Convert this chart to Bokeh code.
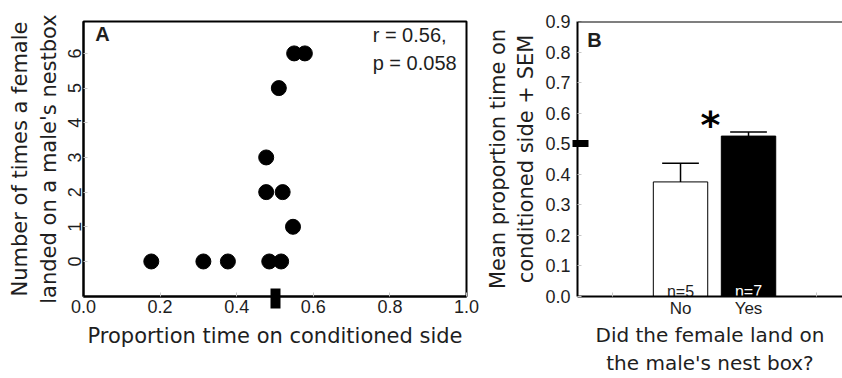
from bokeh.plotting import figure
from bokeh.layouts import row
from bokeh.models import FixedTicker, Label, Range1d, ColumnDataSource, Span
from bokeh.core.properties import value
from bokeh.embed import file_html
from bokeh.resources import INLINE

# ---------------- Panel A data ----------------
prop_time = [0.177, 0.313, 0.377, 0.485, 0.516, 0.547, 0.477, 0.520, 0.477, 0.510, 0.550, 0.578]
landings = [0, 0, 0, 0, 0, 1, 2, 2, 3, 5, 6, 6]
a_xticks = [0.0, 0.2, 0.4, 0.6, 0.8, 1.0]
a_xtick_labels = ["0.0", "0.2", "0.4", "0.6", "0.8", "1.0"]
a_yticks = [0, 1, 2, 3, 4, 5, 6]
a_ytick_labels = ["0", "1", "2", "3", "4", "5", "6"]
chance_level = 0.5
stats_text = ["r = 0.56,", "p = 0.058"]

# ---------------- Panel B data ----------------
groups = ["No", "Yes"]
group_pos = [1, 2]
mean_prop = [0.375, 0.525]
sem_prop = [0.061, 0.013]
n_labels = ["n=5", "n=7"]
b_edge_ticks = [0, 3]
b_yticks = [0.0, 0.1, 0.2, 0.3, 0.4, 0.5, 0.6, 0.7, 0.8, 0.9]
b_ytick_labels = ["0.0", "0.1", "0.2", "0.3", "0.4", "0.5", "0.6", "0.7", "0.8", "0.9"]

TITLE_FONT = "DejaVu Sans"
TICK_FONT = "Liberation Sans"
TXT = "#1e1e1e"


def style_axis(ax, label_size="18px", title_size="21px"):
    ax.axis_line_color = "black"
    ax.axis_line_width = 2
    ax.major_tick_line_color = "#c8c8c8"
    ax.major_tick_in = 4
    ax.major_tick_out = 0
    ax.minor_tick_line_color = None
    ax.major_label_text_font = TICK_FONT
    ax.major_label_text_font_size = label_size
    ax.major_label_text_color = TXT
    ax.axis_label_text_font = TITLE_FONT
    ax.axis_label_text_font_size = title_size
    ax.axis_label_text_font_style = "normal"
    ax.axis_label_text_color = TXT


# ================= Panel A =================
pA = figure(width=480, height=378, x_range=Range1d(0, 1), y_range=Range1d(-1.01, 6.92),
            output_backend="svg", toolbar_location=None,
            min_border_left=83, min_border_right=14, min_border_top=21, min_border_bottom=82)
pA.grid.visible = False
pA.outline_line_color = "black"
pA.outline_line_width = 2
pA.background_fill_color = "white"
pA.border_fill_color = "white"

pA.scatter(prop_time, landings, size=15, color="black", marker="circle")

xa = pA.xaxis[0]
style_axis(xa)
xa.ticker = FixedTicker(ticks=a_xticks, minor_ticks=[chance_level])
xa.major_label_overrides = dict(zip(a_xticks, a_xtick_labels))
xa.minor_tick_line_color = "black"
xa.minor_tick_line_width = 10
xa.minor_tick_in = 8
xa.minor_tick_out = 12
xa.major_label_standoff = -9
xa.axis_label = "Proportion time on conditioned side"
xa.axis_label_standoff = 8

ya = pA.yaxis[0]
style_axis(ya, title_size="21px")
ya.ticker = FixedTicker(ticks=a_yticks)
ya.major_label_overrides = dict(zip(a_yticks, a_ytick_labels))
ya.major_label_orientation = "vertical"
ya.major_label_standoff = 2
ya.axis_label = "Number of times a female\nlanded on a male's nestbox"
ya.axis_label_standoff = 5

pA.add_layout(Label(x=0.031, y=6.56, text="A", text_font=TICK_FONT, text_font_style="bold",
                    text_font_size="20px", text_color=TXT, text_baseline="alphabetic"))
pA.add_layout(Label(x=0.755, y=6.52, text=stats_text[0], text_font=TICK_FONT,
                    text_font_size="20px", text_color=TXT, text_baseline="alphabetic"))
pA.add_layout(Label(x=0.755, y=5.71, text=stats_text[1], text_font=TICK_FONT,
                    text_font_size="20px", text_color=TXT, text_baseline="alphabetic"))

# ================= Panel B =================
pB = figure(width=362, height=378, x_range=Range1d(-0.515, 3.382), y_range=Range1d(0, 0.9),
            output_backend="svg", toolbar_location=None,
            min_border_left=97, min_border_right=0, min_border_top=21, min_border_bottom=82)
pB.grid.visible = False
pB.outline_line_color = None
pB.background_fill_color = "white"
pB.border_fill_color = "white"

src = ColumnDataSource(dict(
    x=group_pos, top=mean_prop,
    err=[m + s for m, s in zip(mean_prop, sem_prop)],
    fill=["white", "black"], ncol=["#1e1e1e", "white"], nlab=n_labels,
))
cap_half = 0.27
src.data["cx0"] = [x - cap_half for x in group_pos]
src.data["cx1"] = [x + cap_half for x in group_pos]
src.data["base"] = [0.016] * len(group_pos)

pB.vbar(x="x", top="top", width=0.8, bottom=0, fill_color="fill", line_color="black",
        line_width=1, source=src)
pB.segment(x0="x", y0="top", x1="x", y1="err", line_color="black", line_width=1.5, source=src)
pB.segment(x0="cx0", y0="err", x1="cx1", y1="err", line_color="black", line_width=1.5, source=src)
pB.text(x="x", y="base", text="nlab", text_color="ncol", text_align="center",
        text_baseline="alphabetic", text_font=value(TICK_FONT), text_font_size="16px", source=src)

xb = pB.xaxis[0]
style_axis(xb, label_size="17px", title_size="20px")
xb.ticker = FixedTicker(ticks=group_pos, minor_ticks=b_edge_ticks)
xb.major_label_overrides = dict(zip(group_pos, groups))
xb.major_tick_line_color = None
xb.minor_tick_line_color = "#c8c8c8"
xb.minor_tick_in = 4
xb.minor_tick_out = 0
xb.major_label_standoff = 2
xb.axis_label = "Did the female land on\nthe male's nest box?"
xb.axis_label_standoff = 2

yb = pB.yaxis[0]
style_axis(yb)
yb.ticker = FixedTicker(ticks=b_yticks, minor_ticks=[chance_level])
yb.major_label_overrides = dict(zip(b_yticks, b_ytick_labels))
yb.minor_tick_line_color = "black"
yb.minor_tick_line_width = 7
yb.minor_tick_in = 11
yb.minor_tick_out = 5
yb.major_label_standoff = 2
yb.axis_label = "Mean proportion time on\nconditioned side + SEM"
yb.axis_label_standoff = 4

pB.add_layout(Span(location=0.9, dimension="width", line_color="black", line_width=2))

pB.add_layout(Label(x=-0.37, y=0.838, text="B", text_font=TICK_FONT, text_font_style="bold",
                    text_font_size="20px", text_color=TXT, text_baseline="alphabetic"))
pB.add_layout(Label(x=1.44, y=0.56, text="*", text_font=TITLE_FONT, text_font_style="bold",
                    text_font_size="38px", text_color="black", text_align="center",
                    text_baseline="alphabetic"))

layout = row(pA, pB)
open("out.html", "w").write(file_html(layout, INLINE))
